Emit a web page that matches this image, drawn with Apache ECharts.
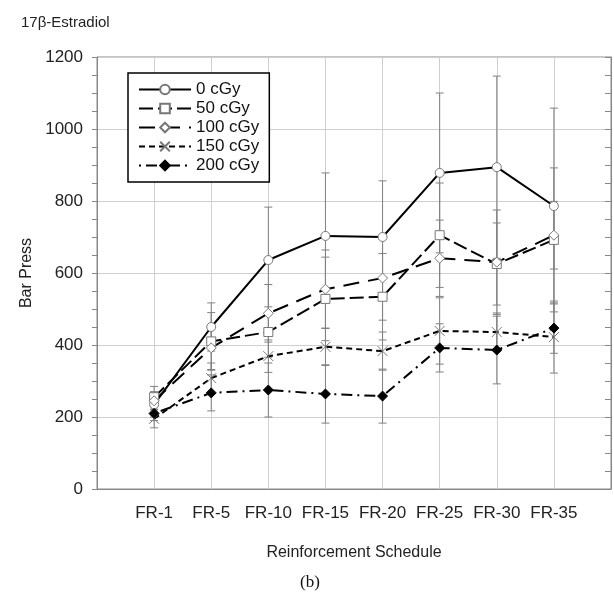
<!DOCTYPE html>
<html>
<head>
<meta charset="utf-8">
<script src="https://cdn.jsdelivr.net/npm/echarts@6/dist/echarts.min.js"></script>
<style>
  html, body { margin: 0; padding: 0; background: #fff; }
  #chart { width: 614px; height: 594px; }
</style>
</head>
<body>
<div id="chart"></div>
<script>
// schedules on the x axis
const categories = ['FR-1', 'FR-5', 'FR-10', 'FR-15', 'FR-20', 'FR-25', 'FR-30', 'FR-35']
const yTicks = [0, 200, 400, 600, 800, 1000, 1200]

// mean bar presses per dose
const dose0 = [235, 450, 636, 703, 700, 878, 894, 786]
const dose50 = [255, 410, 436, 528, 534, 705, 625, 692]
const dose100 = [245, 392, 488, 555, 586, 641, 630, 705]
const dose150 = [195, 308, 369, 395, 383, 439, 436, 422]
const dose200 = [210, 267, 275, 264, 258, 392, 386, 447]

// error bar half-lengths (estimated)
const err0 = [35, 67, 147, 175, 156, 222, 253, 272]
const err50 = [30, 80, 70, 116, 120, 145, 114, 200]
const err100 = [25, 60, 80, 109, 117, 106, 145, 94]
const err150 = [25, 42, 45, 52, 53, 92, 53, 100]
const err200 = [20, 50, 75, 81, 75, 67, 94, 70]

const seriesDefs = [
  { name: '0 cGy', values: dose0, errs: err0, dash: 'solid', symbol: 'circle', size: 9, fill: '#fff', stroke: '#777' },
  { name: '50 cGy', values: dose50, errs: err50, dash: [14, 5], symbol: 'rect', size: 9, fill: '#fff', stroke: '#777' },
  { name: '100 cGy', values: dose100, errs: err100, dash: [16, 9], symbol: 'diamond', size: 10, fill: '#fff', stroke: '#777' },
  { name: '150 cGy', values: dose150, errs: err150, dash: [6, 4], symbol: 'path://M0,0L10,10M10,0L0,10', size: 10, fill: 'rgba(0,0,0,0)', stroke: '#777' },
  { name: '200 cGy', values: dose200, errs: err200, dash: [2, 5, 11, 5], symbol: 'diamond', size: 10, fill: '#000', stroke: '#000' },
]

const chart = echarts.init(document.getElementById('chart'))

const toPoints = values => values.map((v, i) => [i + 1, v])

const lineSeries = seriesDefs.map(d => ({
  name: d.name,
  type: 'line',
  data: toPoints(d.values),
  symbol: d.symbol,
  symbolSize: d.size,
  z: 5,
  lineStyle: { color: '#000', width: 2, type: d.dash },
  itemStyle: { color: d.fill, borderColor: d.stroke, borderWidth: 1 },
}))

// grey whiskers with caps, drawn under the lines
const errorSeries = seriesDefs.map(d => ({
  type: 'custom',
  z: 2,
  silent: true,
  data: d.values.map((v, i) => [i + 1, v - d.errs[i], v + d.errs[i]]),
  renderItem: (params, api) => {
    const lo = api.coord([api.value(0), api.value(1)])
    const hi = api.coord([api.value(0), api.value(2)])
    const w = 4
    const style = { stroke: '#808080', lineWidth: 1 }
    return {
      type: 'group',
      children: [
        { type: 'line', shape: { x1: lo[0], y1: lo[1], x2: hi[0], y2: hi[1] }, style },
        { type: 'line', shape: { x1: lo[0] - w, y1: lo[1], x2: lo[0] + w, y2: lo[1] }, style },
        { type: 'line', shape: { x1: hi[0] - w, y1: hi[1], x2: hi[0] + w, y2: hi[1] }, style },
      ],
    }
  },
}))

const yAxisBase = {
  type: 'value',
  min: yTicks[0],
  max: yTicks[yTicks.length - 1],
  interval: 200,
  axisLine: { show: true, lineStyle: { color: '#888' } },
  minorTick: { show: true, splitNumber: 4, length: 5, lineStyle: { color: '#888' } },
}

const options = {
  animation: false,
  textStyle: { fontFamily: 'Liberation Sans, Arial, sans-serif' },
  title: {
    text: '17β-Estradiol',
    left: 16,
    top: 10,
    textStyle: { fontSize: 15, fontWeight: 'normal', color: '#222' },
  },
  grid: { left: 97, right: 1, top: 57, bottom: 105, show: true, borderColor: '#888', borderWidth: 1 },
  legend: {
    data: seriesDefs.map(d => d.name),
    orient: 'vertical',
    left: 128,
    top: 73,
    width: 140,
    padding: [8, 10, 8, 10],
    itemGap: 2,
    itemWidth: 52,
    itemHeight: 12,
    backgroundColor: '#fff',
    borderColor: '#000',
    borderWidth: 1.5,
    borderRadius: 0,
    textStyle: { fontSize: 17, color: '#111', padding: [0, 0, 0, 0] },
  },
  xAxis: {
    type: 'value',
    min: 0,
    max: 9,
    interval: 1,
    name: 'Reinforcement Schedule',
    nameLocation: 'middle',
    nameGap: 56,
    nameTextStyle: { fontSize: 16, color: '#222' },
    axisLine: { show: true, lineStyle: { color: '#888' } },
    axisTick: { show: false },
    axisLabel: {
      fontSize: 17,
      color: '#222',
      margin: 16,
      formatter: v => categories[v - 1] || '',
    },
    splitLine: { show: true, lineStyle: { color: '#cfcfcf' } },
  },
  yAxis: [
    {
      ...yAxisBase,
      position: 'left',
      name: 'Bar Press',
      nameLocation: 'middle',
      nameGap: 58,
      nameTextStyle: { fontSize: 16, color: '#222' },
      axisTick: { show: true, inside: false, length: 5, lineStyle: { color: '#888' } },
      axisLabel: { fontSize: 17, color: '#222', margin: 14, formatter: v => String(v) },
      splitLine: { show: true, lineStyle: { color: '#cfcfcf' } },
    },
    {
      ...yAxisBase,
      position: 'right',
      axisTick: { show: true, inside: true, length: 6, lineStyle: { color: '#888' } },
      minorTick: { ...yAxisBase.minorTick, length: 6 },
      axisLabel: { show: false },
      splitLine: { show: false },
    },
  ],
  graphic: [
    {
      type: 'text',
      left: 300,
      top: 574,
      style: { text: '(b)', fontSize: 17, fontFamily: 'Liberation Serif, Times New Roman, serif', fill: '#111' },
    },
  ],
  series: [...errorSeries, ...lineSeries],
}

chart.setOption(options)
</script>
</body>
</html>
